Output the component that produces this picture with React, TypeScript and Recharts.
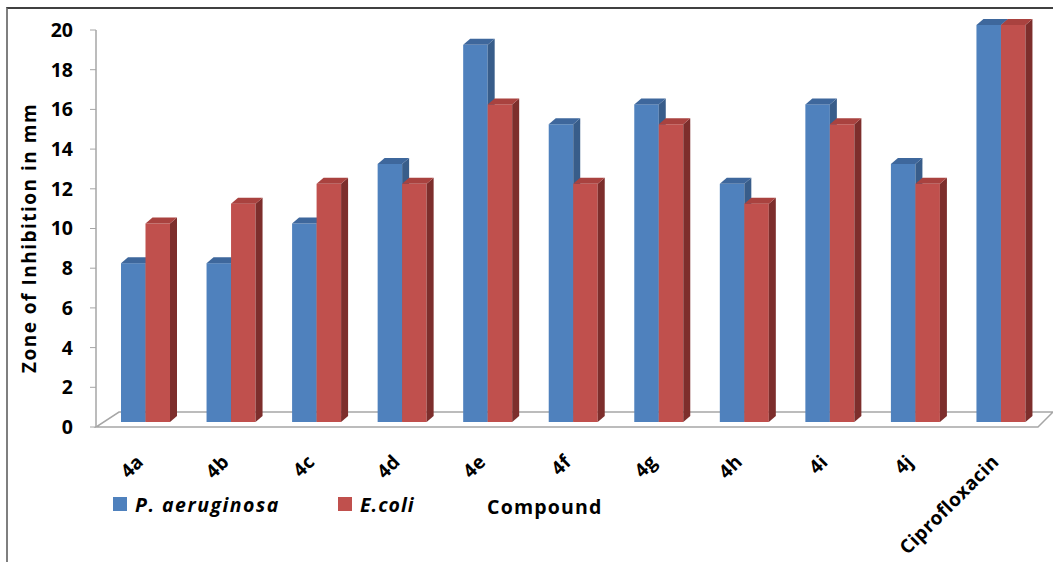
import { BarChart, Bar, XAxis, YAxis } from "recharts";

const compounds = ["4a", "4b", "4c", "4d", "4e", "4f", "4g", "4h", "4i", "4j", "Ciprofloxacin"];
const pAeruginosa = [8, 8, 10, 13, 19, 15, 16, 12, 16, 13, 20];
const eColi = [10, 11, 12, 12, 16, 12, 15, 11, 15, 12, 20];
const yTicks = [0, 2, 4, 6, 8, 10, 12, 14, 16, 18, 20];

const data = compounds.map((name, i) => ({ name, pa: pAeruginosa[i], ec: eColi[i] }));

const W = 1053;
const H = 562;
const PLOT_LEFT = 96;
const PLOT_RIGHT = 1037;
const PLOT_TOP = 30;
const PLOT_BOTTOM = 427;
const X_AXIS_H = 40;

// 3d look: bars sit a bit back in the floor, depth goes up-right
const SHIFT_X = 7;
const SHIFT_Y = -5;
const DEPTH_X = 7;
const DEPTH_Y = -6;

const FONT = "'Open Sans', Lato, sans-serif";

function bar3d(front: string, side: string, top: string) {
  return (props: any) => {
    const { x, y, width, height } = props;
    if (width == null || height == null) return null;
    const x0 = x + SHIFT_X;
    const y0 = y + SHIFT_Y;
    const x1 = x0 + width;
    const y1 = y0 + height;
    return (
      <g>
        <rect x={x0} y={y0} width={width} height={height} fill={front} />
        <polygon
          points={`${x1},${y0} ${x1 + DEPTH_X},${y0 + DEPTH_Y} ${x1 + DEPTH_X},${y1 + DEPTH_Y} ${x1},${y1}`}
          fill={side}
        />
        <polygon
          points={`${x0},${y0} ${x0 + DEPTH_X},${y0 + DEPTH_Y} ${x1 + DEPTH_X},${y0 + DEPTH_Y} ${x1},${y0}`}
          fill={top}
        />
      </g>
    );
  };
}

const CategoryTick = (props: any) => {
  const { x, y, payload } = props;
  return (
    <g transform={`translate(${x + SHIFT_X - 1},${y + 36})`}>
      <text
        textAnchor="end"
        transform="rotate(-45)"
        fontFamily={FONT}
        fontWeight={700}
        fontSize={19}
        letterSpacing={0.4}
        fill="#000"
      >
        {payload.value}
      </text>
    </g>
  );
};

const YLabel = () => (
  <text
    x={29}
    y={238}
    transform="rotate(-90 29 238)"
    textAnchor="middle"
    dominantBaseline="central"
    fontFamily={FONT}
    fontWeight={700}
    fontSize={19}
    letterSpacing={1.5}
    fill="#000"
  >
    Zone of Inhibition in mm
  </text>
);

function Floor() {
  const back = PLOT_BOTTOM - 15;
  return (
    <svg width={W} height={H} style={{ position: "absolute", left: 0, top: 0 }}>
      <polyline
        points={`${W},${back} ${PLOT_LEFT + 23},${back} ${PLOT_LEFT},${PLOT_BOTTOM} ${PLOT_RIGHT + 1},${PLOT_BOTTOM} ${PLOT_RIGHT + 16},${back}`}
        fill="none"
        stroke="#a6a6a6"
        strokeWidth={1.5}
      />
    </svg>
  );
}

function LegendRow() {
  const item = (color: string, label: string, left: number, spacing: number) => (
    <div style={{ position: "absolute", left, top: 491, height: 26, display: "flex", alignItems: "center" }}>
      <span style={{ width: 14, height: 14, background: color, display: "inline-block", marginRight: 8 }} />
      <span
        style={{
          fontFamily: FONT,
          fontWeight: 700,
          fontStyle: "italic",
          fontSize: 19.5,
          letterSpacing: spacing,
          color: "#000",
        }}
      >
        {label}
      </span>
    </div>
  );
  return (
    <>
      {item("#4F81BD", "P. aeruginosa", 113, 1.5)}
      {item("#C0504D", "E.coli", 338, 1)}
      <div
        style={{
          position: "absolute",
          left: 487,
          top: 494,
          height: 26,
          lineHeight: "26px",
          fontFamily: FONT,
          fontWeight: 700,
          fontSize: 19.5,
          letterSpacing: 1.2,
          color: "#000",
        }}
      >
        Compound
      </div>
    </>
  );
}

export default function App() {
  return (
    <div style={{ position: "absolute", left: 0, top: 0, width: W, height: H, background: "#fff", overflow: "hidden" }}>
      <div
        style={{
          position: "absolute",
          left: 6,
          top: 7,
          width: W,
          height: H,
          borderLeft: "2px solid #7f7f7f",
          borderTop: "2px solid #404040",
        }}
      />
      <Floor />
      <div style={{ position: "absolute", left: 0, top: 0 }}>
        <BarChart
          width={W}
          height={H}
          data={data}
          margin={{ top: PLOT_TOP, right: W - PLOT_RIGHT, bottom: H - PLOT_BOTTOM - X_AXIS_H, left: 0 }}
          barSize={24.5}
          barGap={0}
        >
          <XAxis dataKey="name" height={X_AXIS_H} axisLine={false} tickLine={false} tickSize={0} tickMargin={0} interval={0} tick={<CategoryTick />} />
          <YAxis
            width={PLOT_LEFT}
            domain={[0, 20]}
            ticks={yTicks}
            interval={0}
            axisLine={{ stroke: "#a6a6a6", strokeWidth: 1.5 }}
            tickLine={{ stroke: "#a6a6a6" }}
            tickSize={6}
            tickMargin={17}
            tick={{ fontFamily: FONT, fontWeight: 700, fontSize: 19.5, fill: "#000" }}
            label={<YLabel />}
          />
          <Bar dataKey="pa" name="P. aeruginosa" fill="#4F81BD" isAnimationActive={false} shape={bar3d("#4F81BD", "#385D8A", "#3E679C")} />
          <Bar dataKey="ec" name="E.coli" fill="#C0504D" isAnimationActive={false} shape={bar3d("#C0504D", "#7D2E2C", "#A9423F")} />
        </BarChart>
      </div>
      <LegendRow />
    </div>
  );
}
